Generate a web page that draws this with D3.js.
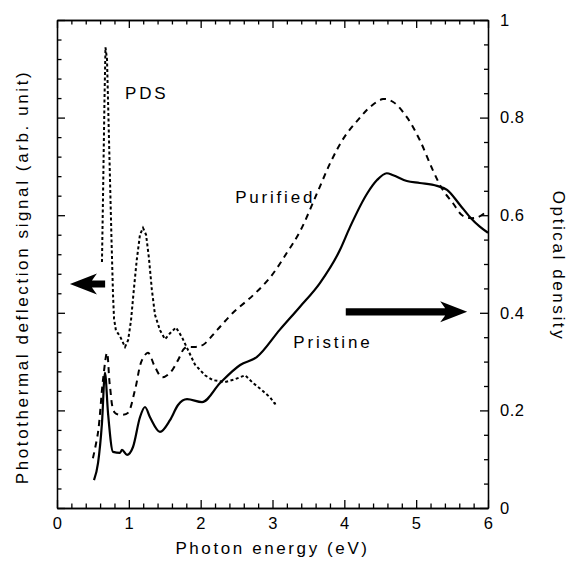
<!DOCTYPE html>
<html>
<head>
<meta charset="utf-8">
<script src="https://cdn.jsdelivr.net/npm/d3@7"></script>
<style>
  body { margin: 0; background: #fff; }
  svg text { font-family: "Liberation Sans", Arial, sans-serif; fill: #000; }
  .axis path, .axis line { stroke: #000; stroke-width: 1.3; }
  .ticklab text { font-size: 16.5px; letter-spacing: 0.5px; }
  .title { font-size: 17px; letter-spacing: 2.6px; }
  .lbl { font-size: 17px; letter-spacing: 2.8px; }
</style>
</head>
<body>
<svg id="chart" width="573" height="577"></svg>
<script>
// tick labels
var energyTicks = [0, 1, 2, 3, 4, 5, 6];
var odTicks = [0, 0.2, 0.4, 0.6, 0.8, 1];
var pdsTicks = [0, 5, 10, 15, 20, 25];   // left axis, arb. unit, no labels

// PDS signal (left axis, arb. unit) - dotted
var pdsE = [0.626, 0.64, 0.661, 0.675, 0.696, 0.717, 0.738, 0.759, 0.78, 0.794, 0.82, 0.877, 0.947, 0.99, 1.03, 1.07, 1.11, 1.155, 1.197, 1.24, 1.28, 1.32, 1.364, 1.434, 1.504, 1.573, 1.657, 1.74, 1.81, 1.92, 2.06, 2.17, 2.34, 2.48, 2.62, 2.73, 2.85, 2.97, 3.03, 3.08];
var pdsS = [12.6, 15.8, 20.9, 23.6, 23.0, 19.9, 16.8, 13.7, 10.9, 9.7, 9.1, 8.8, 8.25, 8.6, 9.6, 11.2, 12.7, 14.0, 14.35, 14.0, 12.8, 11.2, 9.9, 9.1, 8.65, 8.95, 9.25, 8.75, 8.2, 7.35, 6.8, 6.55, 6.45, 6.6, 6.8, 6.4, 6.05, 5.65, 5.35, 5.4];

// Purified optical density - dashed
var purE = [0.50, 0.57, 0.64, 0.696, 0.738, 0.807, 0.919, 0.988, 1.086, 1.183, 1.267, 1.364, 1.462, 1.573, 1.685, 1.782, 1.92, 2.03, 2.23, 2.45, 2.73, 2.97, 3.20, 3.38, 3.62, 3.82, 4.0, 4.2, 4.36, 4.54, 4.68, 4.87, 5.05, 5.23, 5.37, 5.51, 5.64, 5.75, 5.86, 5.96];
var purOD = [0.102, 0.154, 0.262, 0.318, 0.248, 0.195, 0.191, 0.195, 0.242, 0.303, 0.318, 0.289, 0.268, 0.277, 0.303, 0.328, 0.33, 0.334, 0.365, 0.40, 0.436, 0.473, 0.523, 0.566, 0.645, 0.712, 0.76, 0.797, 0.822, 0.838, 0.832, 0.801, 0.754, 0.693, 0.652, 0.625, 0.60, 0.594, 0.596, 0.605];

// Pristine optical density - solid
var priE = [0.515, 0.571, 0.626, 0.668, 0.71, 0.78, 0.877, 0.905, 0.975, 1.058, 1.155, 1.225, 1.295, 1.434, 1.573, 1.685, 1.81, 2.02, 2.27, 2.55, 2.78, 3.10, 3.38, 3.66, 3.94, 4.08, 4.32, 4.455, 4.59, 4.68, 4.87, 5.05, 5.29, 5.43, 5.61, 5.75, 5.89, 6.0];
var priOD = [0.057, 0.092, 0.174, 0.277, 0.195, 0.115, 0.113, 0.119, 0.109, 0.125, 0.186, 0.207, 0.186, 0.156, 0.18, 0.211, 0.223, 0.217, 0.256, 0.293, 0.309, 0.365, 0.412, 0.461, 0.529, 0.576, 0.645, 0.672, 0.686, 0.682, 0.67, 0.666, 0.66, 0.652, 0.621, 0.596, 0.576, 0.564];

// text labels inside plot (energy, optical density)
var labelText = ["PDS", "Purified", "Pristine"];
var labelE = [0.947, 2.48, 3.29];
var labelOD = [0.838, 0.625, 0.328];

// arrows: [tail energy, tip energy, optical density level]
var arrowLeft = [0.67, 0.18, 0.459];
var arrowRight = [4.02, 5.71, 0.402];

var svg = d3.select("#chart");
var mLeft = 57, mRight = 488, mTop = 20, mBottom = 508;

var x = d3.scaleLinear().domain([0, 6]).range([mLeft, mRight]);
var yR = d3.scaleLinear().domain([0, 1]).range([mBottom, mTop]);
var yL = d3.scaleLinear().domain([0, 25]).range([mBottom, mTop]);

var minorE = d3.range(0, 6.001, 0.2).filter(function (d) { return Math.abs(d - Math.round(d)) > 1e-6; });
var minorOD = d3.range(0, 1.001, 0.05).filter(function (d) { return Math.abs(d * 5 - Math.round(d * 5)) > 1e-6; });
var minorL = d3.range(0, 25.001, 1).filter(function (d) { return d % 5 !== 0; });

// bottom axis
svg.append("g").attr("class", "axis ticklab").attr("transform", "translate(0," + mBottom + ")")
  .call(d3.axisBottom(x).tickValues(energyTicks).tickSize(-8).tickSizeOuter(0).tickPadding(9).tickFormat(d3.format("d")));
svg.append("g").attr("class", "axis").attr("transform", "translate(0," + mBottom + ")")
  .call(d3.axisBottom(x).tickValues(minorE).tickSize(-4.5).tickSizeOuter(0).tickFormat(""));

// top axis
svg.append("g").attr("class", "axis").attr("transform", "translate(0," + mTop + ")")
  .call(d3.axisTop(x).tickValues(energyTicks).tickSize(-8).tickSizeOuter(0).tickFormat(""));
svg.append("g").attr("class", "axis").attr("transform", "translate(0," + mTop + ")")
  .call(d3.axisTop(x).tickValues(minorE).tickSize(-4.5).tickSizeOuter(0).tickFormat(""));

// right axis (optical density)
svg.append("g").attr("class", "axis ticklab").attr("transform", "translate(" + mRight + ",0)")
  .call(d3.axisRight(yR).tickValues(odTicks).tickSize(-8).tickSizeOuter(0).tickPadding(12).tickFormat(d3.format("~g")));
svg.append("g").attr("class", "axis").attr("transform", "translate(" + mRight + ",0)")
  .call(d3.axisRight(yR).tickValues(minorOD).tickSize(-4).tickSizeOuter(0).tickFormat(""));

// left axis (PDS, arb. unit)
svg.append("g").attr("class", "axis").attr("transform", "translate(" + mLeft + ",0)")
  .call(d3.axisLeft(yL).tickValues(pdsTicks).tickSize(-8).tickSizeOuter(0).tickFormat(""));
svg.append("g").attr("class", "axis").attr("transform", "translate(" + mLeft + ",0)")
  .call(d3.axisLeft(yL).tickValues(minorL).tickSize(-4.5).tickSizeOuter(0).tickFormat(""));

// curves
var pds = pdsE.map(function (e, i) { return [e, pdsS[i]]; });
var pur = purE.map(function (e, i) { return [e, purOD[i]]; });
var pri = priE.map(function (e, i) { return [e, priOD[i]]; });

var lineL = d3.line().x(function (d) { return x(d[0]); }).y(function (d) { return yL(d[1]); });
var lineR = d3.line().curve(d3.curveMonotoneX).x(function (d) { return x(d[0]); }).y(function (d) { return yR(d[1]); });
var lineSmooth = d3.line().curve(d3.curveCatmullRom.alpha(0.5)).x(function (d) { return x(d[0]); }).y(function (d) { return yR(d[1]); });

svg.append("path").datum(pds).attr("d", lineL)
  .attr("fill", "none").attr("stroke", "#000").attr("stroke-width", 2).attr("stroke-dasharray", "3,2.5");
svg.append("path").datum(pur).attr("d", lineSmooth)
  .attr("fill", "none").attr("stroke", "#000").attr("stroke-width", 2).attr("stroke-dasharray", "6,5");
svg.append("path").datum(pri).attr("d", lineR)
  .attr("fill", "none").attr("stroke", "#000").attr("stroke-width", 2.2);

// arrows
function arrow(a) {
  var x0 = x(a[0]), x1 = x(a[1]), y = yR(a[2]);
  var d = x1 > x0 ? 1 : -1, hl = 27, hh = 10.5, bh = 3.6, notch = 5;
  var pts = [[x0, y - bh], [x1 - d * (hl - notch), y - bh], [x1 - d * hl, y - hh], [x1, y],
             [x1 - d * hl, y + hh], [x1 - d * (hl - notch), y + bh], [x0, y + bh]];
  svg.append("path").attr("d", d3.line()(pts) + "Z").attr("fill", "#000");
}
arrow(arrowLeft);
arrow(arrowRight);

// labels inside plot
labelText.forEach(function (t, i) {
  svg.append("text").attr("class", "lbl").attr("x", x(labelE[i])).attr("y", yR(labelOD[i])).text(t);
});

// axis titles
svg.append("text").attr("class", "title").attr("text-anchor", "middle")
  .attr("x", (mLeft + mRight) / 2).attr("y", 554).text("Photon energy (eV)");
svg.append("text").attr("class", "title").attr("text-anchor", "middle")
  .attr("transform", "translate(28," + ((mTop + mBottom) / 2 + 13) + ") rotate(-90)")
  .text("Photothermal deflection signal (arb. unit)");
svg.append("text").attr("class", "title").attr("text-anchor", "middle")
  .attr("transform", "translate(553," + ((mTop + mBottom) / 2 + 2) + ") rotate(90)")
  .text("Optical density");
</script>
</body>
</html>
